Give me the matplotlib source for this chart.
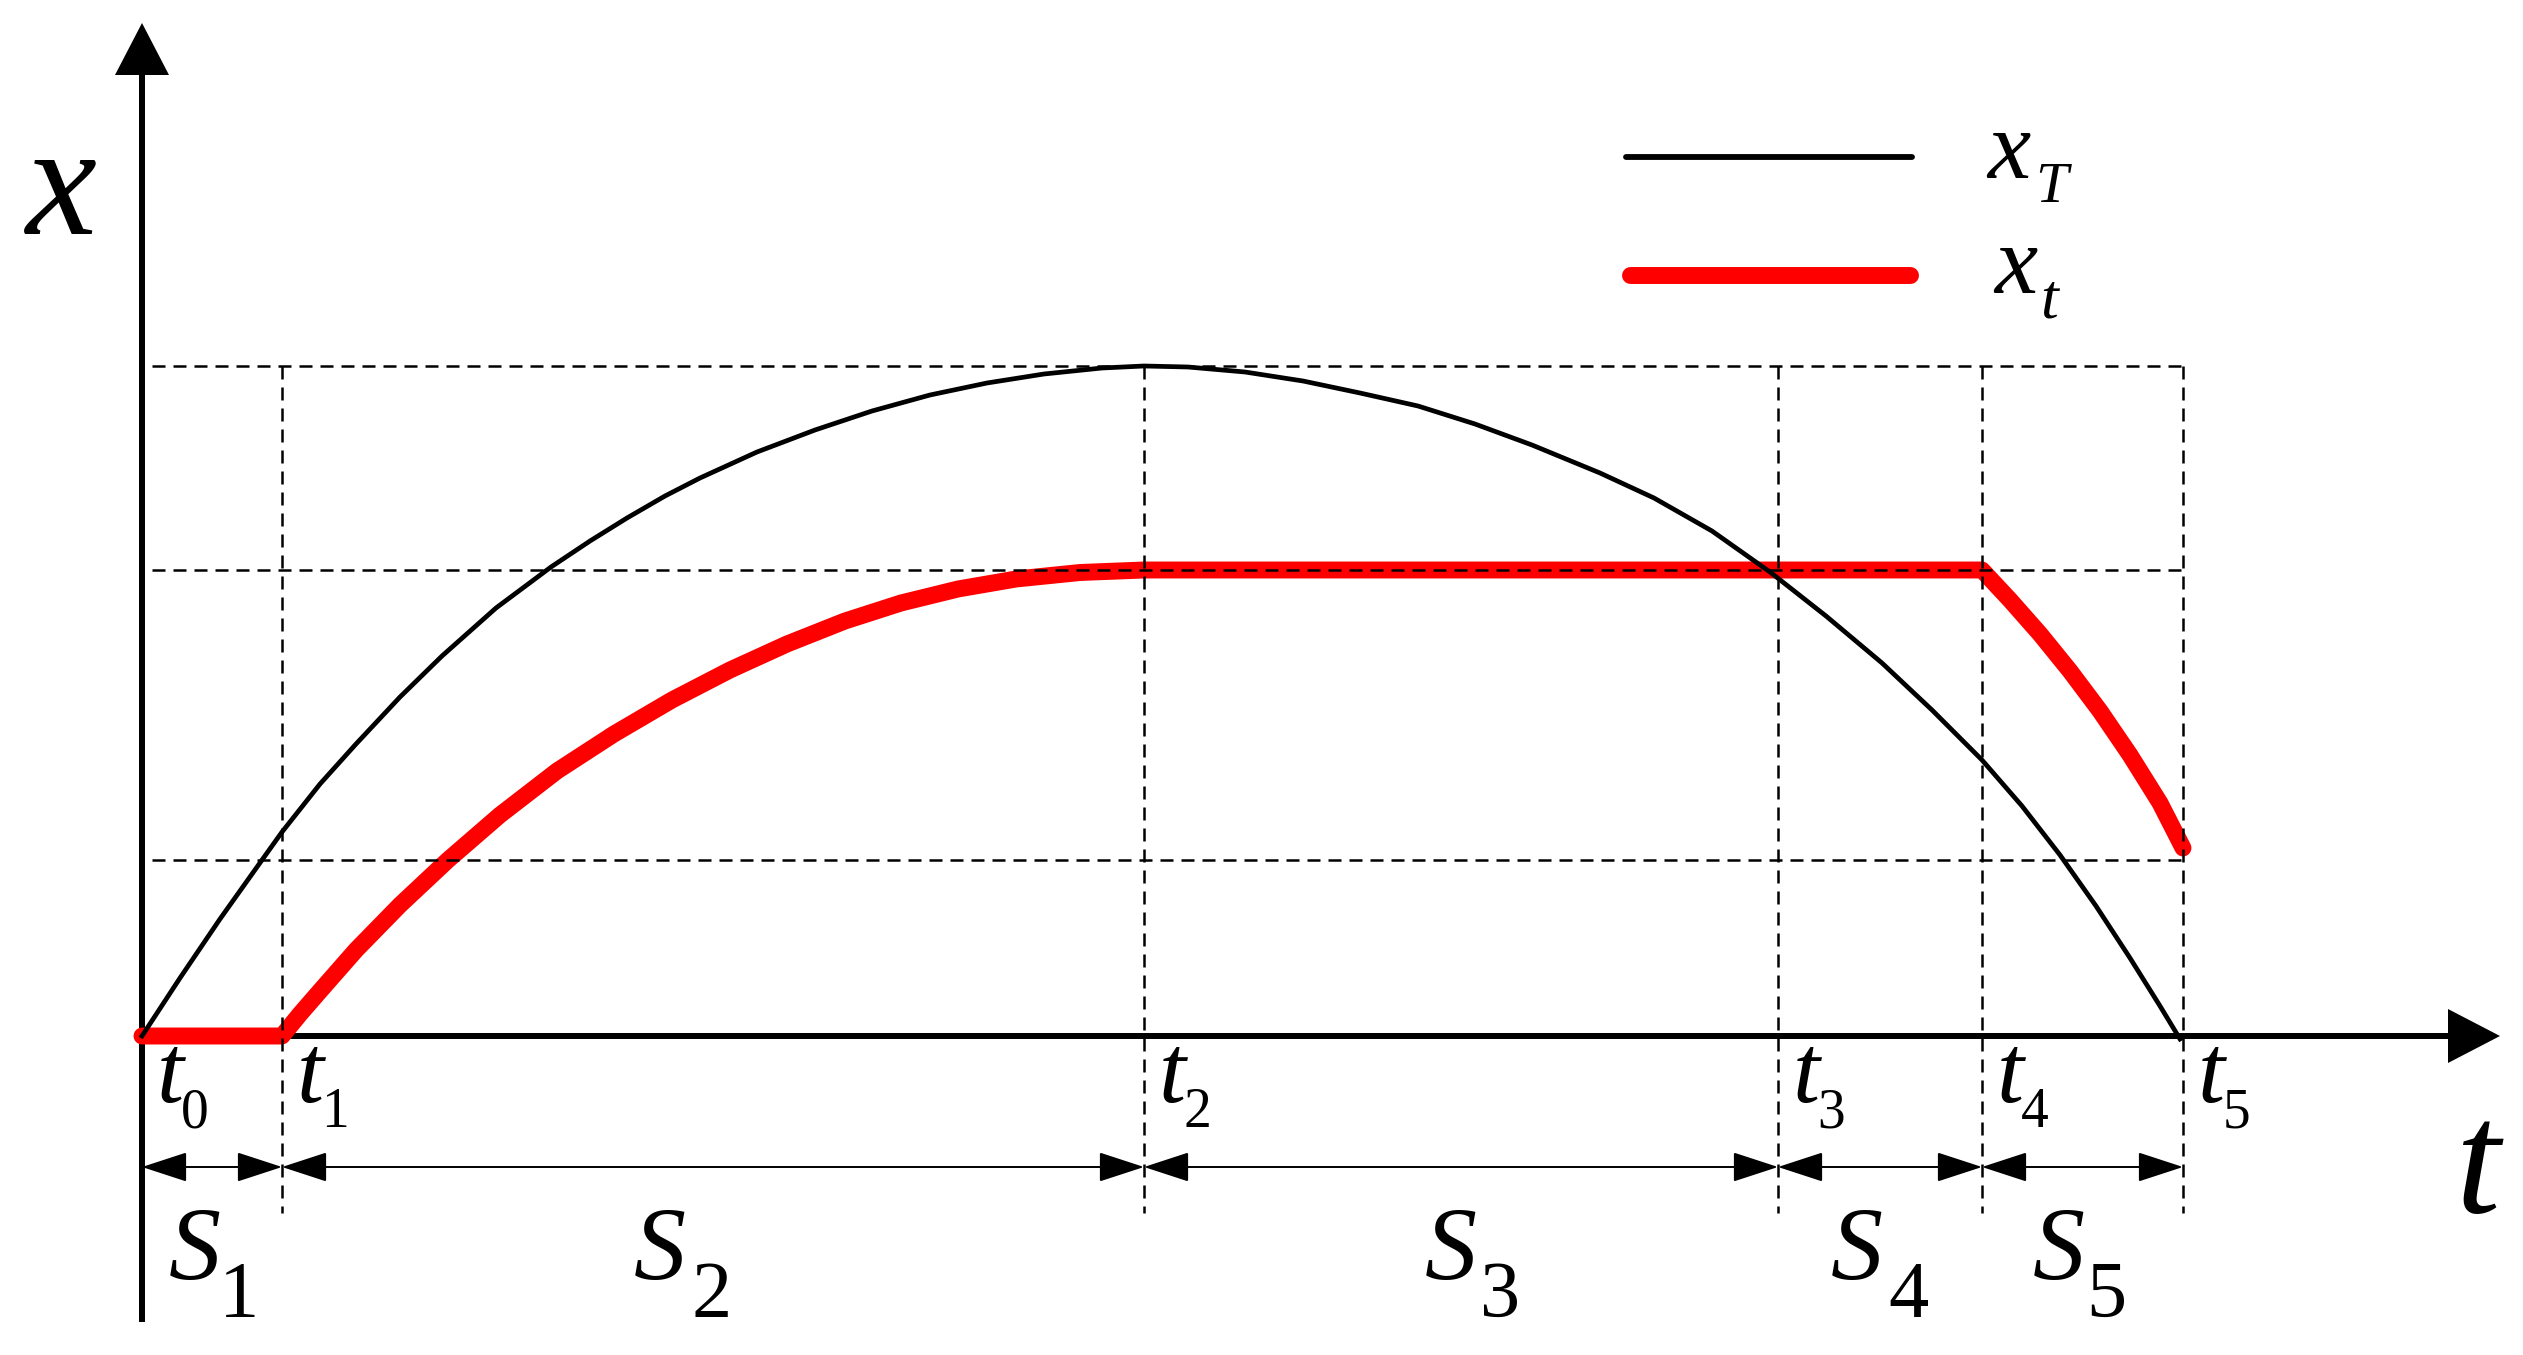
import numpy as np
import matplotlib.pyplot as plt
from matplotlib.lines import Line2D
from matplotlib import font_manager

# switching instants t0..t5 (time units) and the guide levels of x
t_marks = [0.0, 1.40, 10.02, 16.36, 18.40, 20.41]
t_names = ['0', '1', '2', '3', '4', '5']
levels = [1.76, 4.66, 6.70]
s_names = ['1', '2', '3', '4', '5']

# x_T, black curve
xT_t = [0.00, 0.38, 0.78, 1.20, 1.40, 1.78, 2.14, 2.58, 3.00, 3.54, 4.09, 4.48,
        4.85, 5.23, 5.58, 6.15, 6.73, 7.30, 7.88, 8.45, 9.02, 9.60, 10.02,
        10.46, 11.03, 11.61, 12.18, 12.76, 13.33, 13.90, 14.58, 15.12, 15.70,
        16.28, 16.84, 17.40, 17.90, 18.40, 18.80, 19.18, 19.54, 19.88, 20.18,
        20.38]
xT_x = [0.00, 0.58, 1.17, 1.76, 2.04, 2.52, 2.92, 3.39, 3.80, 4.28, 4.69, 4.95,
        5.18, 5.40, 5.58, 5.84, 6.06, 6.25, 6.41, 6.53, 6.62, 6.68, 6.70,
        6.69, 6.64, 6.55, 6.43, 6.30, 6.12, 5.91, 5.63, 5.38, 5.05,
        4.64, 4.20, 3.73, 3.26, 2.76, 2.30, 1.81, 1.30, 0.78, 0.30,
        -0.03]

# x_t, red curve
xt_t = [0.00, 1.40, 1.58, 1.78, 2.14, 2.58, 3.06, 3.58, 4.15, 4.72, 5.30, 5.88,
        6.45, 7.03, 7.59, 8.16, 8.74, 9.38, 10.02,
        18.40, 18.68, 18.98, 19.28, 19.58, 19.88, 20.18, 20.41]
xt_x = [0.00, 0.00, 0.22, 0.45, 0.86, 1.31, 1.76, 2.21, 2.65, 3.02, 3.36, 3.66,
        3.92, 4.15, 4.33, 4.47, 4.57, 4.635, 4.66,
        4.66, 4.36, 4.02, 3.65, 3.25, 2.81, 2.33, 1.88]

W, H = 2523, 1355
X0, Y0 = 142, 1036   # pixel position of the origin
SC = 100.0           # pixels per unit


def d(px, py):
    # pixel position -> data position
    return (px - X0) / SC, (Y0 - py) / SC


# pick a Times-like family that really has an italic face
serif = 'DejaVu Serif'
for fam in ['Liberation Serif', 'Noto Serif', 'DejaVu Serif']:
    try:
        p = font_manager.findfont(font_manager.FontProperties(family=fam, style='italic'),
                                  fallback_to_default=False)
    except Exception:
        continue
    if 'italic' in p.lower():
        serif = fam
        break

fig = plt.figure(figsize=(W / 100, H / 100), dpi=100)
ax = fig.add_axes([0, 0, 1, 1])
ax.set_xlim(d(0, 0)[0], d(W, 0)[0])
ax.set_ylim(d(0, H)[1], d(0, 0)[1])
ax.axis('off')

# axes with arrow heads
y_bot = d(0, 1322)[1]
y_tip = d(0, 23)[1]
ax.arrow(0, y_bot, 0, y_tip - y_bot, width=0.06, head_width=0.54,
         head_length=0.52, length_includes_head=True, color='k', lw=0, zorder=2)
x_tip = d(2500, 0)[0]
x_beg = d(138, 0)[0]
ax.arrow(x_beg, 0, x_tip - x_beg, 0, width=0.06, head_width=0.54,
         head_length=0.52, length_includes_head=True, color='k', lw=0, zorder=2)

# dashed guide grid
dash = (0, (5.2, 3.2))
x_left = d(152, 0)[0]
h_dim = d(0, 1167)[1]
h_low = d(0, 1213)[1]
for lv in levels:
    ax.plot([x_left, t_marks[-1]], [lv, lv], color='k', lw=1.8, ls=dash, zorder=4)
for tm in t_marks[1:]:
    ax.plot([tm, tm], [levels[-1], h_low], color='k', lw=1.8, ls=dash, zorder=4)

# curves
ax.plot(xt_t, xt_x, color='#ff0000', lw=12.2, solid_capstyle='round',
        solid_joinstyle='round', zorder=3)
ax.plot(xT_t, xT_x, color='k', lw=3.4, zorder=3.5)

# dimension arrows between the instants
for i in range(len(t_marks) - 1):
    ax.annotate('', xy=(t_marks[i + 1], h_dim), xytext=(t_marks[i], h_dim),
                arrowprops=dict(arrowstyle='<|-|>,head_length=2.88,head_width=0.94',
                                lw=1.4, color='k', shrinkA=0, shrinkB=0,
                                mutation_scale=10))

# instant labels t_i
for tm, nm in zip(t_marks, t_names):
    ax.text(tm + 0.28, d(0, 1102)[1], 't', fontsize=70, family=serif,
            style='italic', ha='center', va='baseline')
    ax.text(tm + 0.53, d(0, 1127)[1], nm, fontsize=40, family=serif,
            ha='center', va='baseline')

# segment labels S_i
s_pos = [195, 660, 1451, 1857, 2059]
sub_pos = [239, 712, 1500, 1908, 2106]
for sp, bp, nm in zip(s_pos, sub_pos, s_names):
    ax.text(d(sp, 0)[0], d(0, 1279)[1], 'S', fontsize=75, family=serif,
            style='italic', ha='center', va='baseline')
    ax.text(d(bp, 0)[0], d(0, 1317)[1], nm, fontsize=58, family=serif,
            ha='center', va='baseline')

# axis names
ax.text(*d(61, 234), 'x', fontsize=115, family=serif, style='italic',
        ha='center', va='baseline')
ax.text(*d(2478, 1212), 't', fontsize=115, family=serif, style='italic',
        ha='center', va='baseline')

# legend
ax.add_line(Line2D([d(1626, 0)[0], d(1912, 0)[0]], [d(0, 157)[1]] * 2,
                   color='k', lw=4.2, solid_capstyle='round'))
ax.add_line(Line2D([d(1630, 0)[0], d(1910, 0)[0]], [d(0, 275)[1]] * 2,
                   color='#ff0000', lw=12.2, solid_capstyle='round'))
ax.text(*d(2009, 178), 'x', fontsize=70, family=serif, style='italic',
        ha='center', va='baseline')
ax.text(*d(2051, 202), 'T', fontsize=42, family=serif, style='italic',
        ha='center', va='baseline')
ax.text(*d(2016, 293), 'x', fontsize=70, family=serif, style='italic',
        ha='center', va='baseline')
ax.text(*d(2049, 317), 't', fontsize=46, family=serif, style='italic',
        ha='center', va='baseline')

fig.savefig('out.png', dpi=100, facecolor='white')
